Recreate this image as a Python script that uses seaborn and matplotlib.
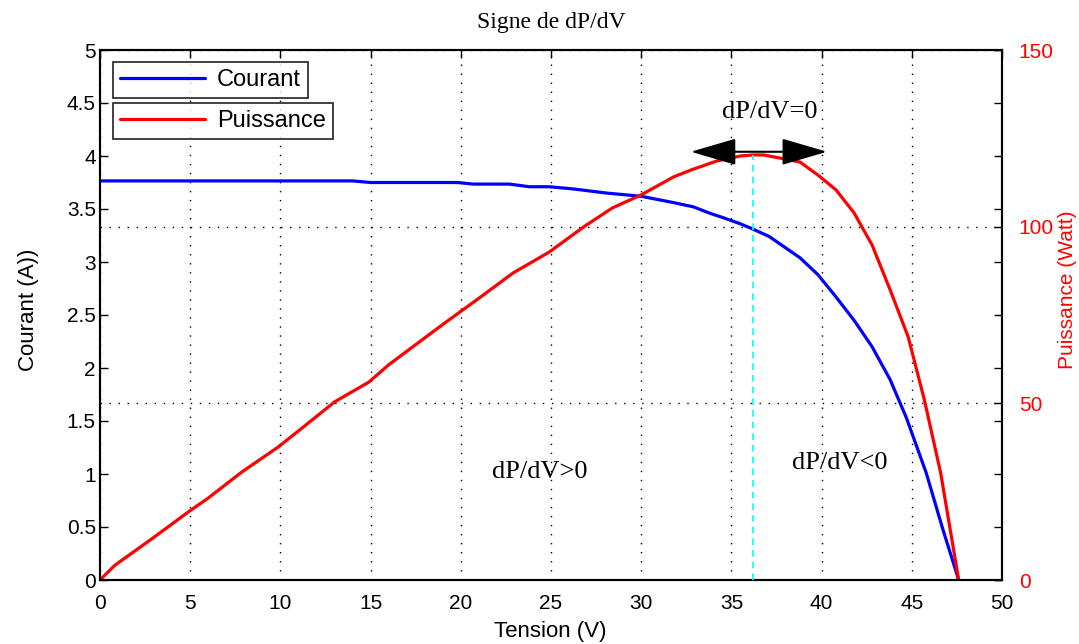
import matplotlib
matplotlib.use("Agg")
import matplotlib.pyplot as plt
import numpy as np
import pandas as pd
import seaborn as sns

# ---------------------------------------------------------------------------
# Data (I-V and P-V curves of a PV module)
# ---------------------------------------------------------------------------
volt_i = [0, 14, 15, 19.8, 20.7, 22.7, 23.8, 24.9, 26.2, 28.1, 30, 31.8, 32.9,
          33.8, 34.6, 35.5, 36.2, 37.1, 38.8, 39.8, 40.8, 41.8, 42.8, 43.8,
          44.7, 45.8, 46.7, 47.6]
courant = [3.765, 3.765, 3.75, 3.75, 3.735, 3.735, 3.71, 3.71, 3.69, 3.65,
           3.62, 3.56, 3.52, 3.46, 3.415, 3.36, 3.31, 3.24, 3.04, 2.88, 2.67,
           2.45, 2.20, 1.89, 1.53, 1.01, 0.49, 0.0]

volt_p = [0, 0.83, 2.94, 4.88, 6.0, 7.87, 9.87, 11.2, 13.0, 14.9, 16.0, 19.1,
          21.1, 22.9, 24.9, 26.8, 28.4, 30, 31.8, 32.9, 34.2, 35.5, 36.2, 36.8,
          38.8, 39.8, 40.8, 41.8, 42.8, 43.8, 44.8, 45.7, 46.6, 47.6]
puissance = [0, 4.2, 11.9, 19.2, 23.2, 30.6, 37.6, 43.0, 50.4, 56.0, 60.9,
             72.7, 80.1, 86.9, 92.8, 99.9, 105.3, 109, 114.1, 116.3, 118.6,
             120, 120.3, 120.3, 118.3, 114.6, 110.4, 103.9, 94.8, 82.1, 68.8,
             50.9, 30.3, 0.0]

# maximum power point
v_mpp = 36.2
p_mpp = 120.3

x_ticks = np.arange(0, 51, 5)
i_ticks = np.arange(0, 5.01, 0.5)
p_ticks = [0, 50, 100, 150]

df_i = pd.DataFrame({"Tension": volt_i, "Courant": courant})
df_p = pd.DataFrame({"Tension": volt_p, "Puissance": puissance})

sns.set_style("white")
plt.rcParams["font.family"] = ["Liberation Sans", "DejaVu Sans"]
plt.rcParams.update({
    "text.color": "black",
    "axes.labelcolor": "black",
    "xtick.color": "black",
    "ytick.color": "black",
})

fig = plt.figure(figsize=(10.79, 6.44), dpi=100)
ax1 = fig.add_axes([100 / 1079, 1 - 580 / 644, 902 / 1079, 530 / 644])
ax2 = ax1.twinx()

sns.lineplot(data=df_i, x="Tension", y="Courant", ax=ax1, color="#0000FF",
             linewidth=2.3, sort=False, estimator=None, label="Courant",
             legend=False)
sns.lineplot(data=df_p, x="Tension", y="Puissance", ax=ax2, color="#FF0000",
             linewidth=2.3, sort=False, estimator=None, label="Puissance",
             legend=False)
ax2.vlines(v_mpp, 0, p_mpp, colors="#00FFFF", linestyles=(0, (4, 3)),
           linewidth=1.2, zorder=3)

ax1.set_xlim(0, 50)
ax1.set_ylim(0, 5)
ax2.set_ylim(0, 150)
ax1.set_xticks(x_ticks)
ax1.set_yticks(i_ticks)
ax1.set_yticklabels([f"{v:g}" for v in i_ticks])
ax2.set_yticks(p_ticks)

grid_kw = dict(color="black", linestyle=(0, (1, 5.5)), linewidth=1.0)
ax1.xaxis.grid(True, **grid_kw)
ax1.yaxis.grid(False)
ax2.yaxis.grid(True, **grid_kw)
ax2.xaxis.grid(False)

for ax in (ax1, ax2):
    for sp in ax.spines.values():
        sp.set_linewidth(1.5)
        sp.set_color("black")

ax1.tick_params(axis="x", direction="in", top=True, length=6, width=1,
                labelsize=15, pad=10, colors="black")
ax1.tick_params(axis="y", direction="in", left=True, right=True, length=6,
                width=1, labelsize=15, pad=3, colors="black")
ax2.tick_params(axis="y", direction="in", right=True, length=6, width=1,
                labelsize=15, pad=12, labelcolor="#FF0000", color="black")

ax1.set_xlabel("Tension (V)", fontsize=16)
ax1.set_ylabel("Courant (A))", fontsize=16)
ax2.set_ylabel("Puissance (Watt)", fontsize=15, color="#FF0000")
ax1.xaxis.set_label_coords(0.499, -0.077)
ax1.yaxis.set_label_coords(-0.068, 0.51)
ax2.yaxis.set_label_coords(1.062, 0.547)

serif = ["Liberation Serif", "DejaVu Serif"]
ax1.set_title("Signe de dP/dV", family=serif, fontsize=17, pad=16)

ax2.annotate("", xy=(32.75, 121.2), xytext=(40.3, 121.2),
             arrowprops=dict(arrowstyle="<|-|>,head_length=1.3,head_width=0.38",
                             color="black", lw=1.5, mutation_scale=22,
                             shrinkA=0, shrinkB=0))
ax2.text(37.1, 132.5, "dP/dV=0", family=serif, fontsize=19,
         ha="center", va="center")
ax2.text(24.4, 30.5, "dP/dV>0", family=serif, fontsize=19,
         ha="center", va="center")
ax2.text(41.0, 33.0, "dP/dV<0", family=serif, fontsize=19,
         ha="center", va="center")

# two stacked legend boxes, one per axis (as MATLAB plotyy draws them)
h1 = ax1.get_lines()[0]
h2 = ax2.get_lines()[0]
leg_kw = dict(loc="upper left", fontsize=17, frameon=True, fancybox=False,
              handlelength=3.6, handletextpad=0.5, borderaxespad=0,
              borderpad=0.3)
leg1 = ax2.legend([h1], ["Courant"], bbox_to_anchor=(0.0144, 0.977), **leg_kw)
leg1.get_frame().set_edgecolor("black")
leg1.get_frame().set_linewidth(1.3)
ax2.add_artist(leg1)
leg2 = ax2.legend([h2], ["Puissance"], bbox_to_anchor=(0.0144, 0.9), **leg_kw)
leg2.get_frame().set_edgecolor("black")
leg2.get_frame().set_linewidth(1.3)

fig.savefig("out.png", dpi=100)
